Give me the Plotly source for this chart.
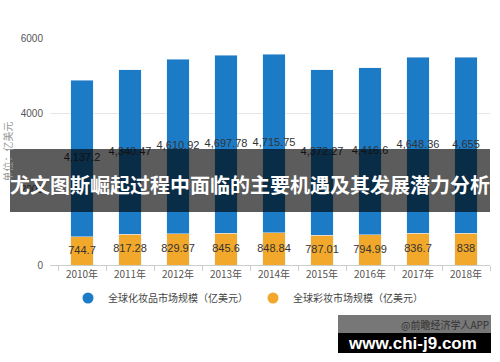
import plotly.graph_objects as go

years = ["2010年", "2011年", "2012年", "2013年", "2014年", "2015年", "2016年", "2017年", "2018年"]
cosmetics = [4137.2, 4340.47, 4610.92, 4697.78, 4715.75, 4372.27, 4416.6, 4648.36, 4655]
makeup = [744.7, 817.28, 829.97, 845.6, 848.84, 787.01, 794.99, 836.7, 838]
yticks = [0, 2000, 4000, 6000]

BLUE = "#1b7bc6"
ORANGE = "#f2a82a"
CJK = "Noto Sans CJK SC"


def fmt(v):
    s = f"{v:,.2f}"
    return s.rstrip("0").rstrip(".")


W, H = 500, 362
L, R, T, B = 50, 10, 38, 97
PW, PH = W - L - R, H - T - B


def px(x):
    return (x - L) / PW


def py(y):
    return (H - B - y) / PH


fig = go.Figure()
fig.add_trace(go.Bar(x=years, y=makeup, marker_color=ORANGE, width=0.46,
                     showlegend=False, hoverinfo="skip"))
fig.add_trace(go.Bar(x=years, y=cosmetics, marker_color=BLUE, width=0.46,
                     showlegend=False, hoverinfo="skip"))

# value labels centred in each segment
fig.add_trace(go.Scatter(x=years, y=[m / 2 for m in makeup], mode="text",
                         text=[fmt(v) for v in makeup],
                         textfont=dict(family="Liberation Sans", size=11, color="#333"),
                         showlegend=False, hoverinfo="skip"))
fig.add_trace(go.Scatter(x=years, y=[m + c / 2 for m, c in zip(makeup, cosmetics)], mode="text",
                         text=[fmt(v) for v in cosmetics],
                         textfont=dict(family="Liberation Sans", size=11, color="#333"),
                         showlegend=False, hoverinfo="skip"))

# legend entries with circle markers
fig.add_trace(go.Scatter(x=[None], y=[None], mode="markers", name="全球化妆品市场规模（亿美元）",
                         marker=dict(color=BLUE, size=11, symbol="circle")))
fig.add_trace(go.Scatter(x=[None], y=[None], mode="markers", name="全球彩妆市场规模（亿美元）",
                         marker=dict(color=ORANGE, size=11, symbol="circle")))

fig.update_layout(
    width=W, height=H,
    margin=dict(l=L, r=R, t=T, b=B, autoexpand=False),
    barmode="stack",
    plot_bgcolor="white", paper_bgcolor="white",
    font=dict(family=CJK, size=10, color="#555"),
    showlegend=True,
    legend=dict(orientation="h", xref="container", yref="container", traceorder="normal",
                x=0.496, xanchor="center", y=1 - 298 / H, yanchor="middle",
                font=dict(family=CJK, size=10, color="#444"),
                itemwidth=30, tracegroupgap=0, bgcolor="rgba(0,0,0,0)"),
    xaxis=dict(range=[-0.667, 8.5], showline=True, linecolor="#cccccc", linewidth=1,
               ticks="outside", tickson="boundaries", ticklen=5, tickcolor="#cccccc",
               tickfont=dict(family=CJK, size=10, color="#555"), showgrid=False,
               fixedrange=True, automargin=False),
    yaxis=dict(range=[0, 6000], tickvals=yticks, ticktext=[str(v) for v in yticks],
               showgrid=True, gridcolor="#e6e6e6", zeroline=False, showline=False,
               tickfont=dict(family="Liberation Sans", size=10, color="#555"),
               ticklabelstandoff=6, automargin=False,
               title=dict(text="单位：亿美元", font=dict(family=CJK, size=10, color="#999"),
                          standoff=6)),
)

shapes = [
    # dark overlay band
    dict(type="rect", xref="paper", yref="paper", x0=px(10), x1=px(490), y0=py(212), y1=py(149),
         fillcolor="rgba(0,0,0,0.64)", line=dict(width=0), layer="above"),
    # watermark boxes
    dict(type="rect", xref="paper", yref="paper", x0=px(338), x1=px(491), y0=py(333), y1=py(315),
         fillcolor="#777777", line=dict(width=0), layer="above"),
    dict(type="rect", xref="paper", yref="paper", x0=px(338), x1=px(491), y0=py(353), y1=py(333),
         fillcolor="#000000", line=dict(width=0), layer="above"),
]
fig.update_layout(shapes=shapes)

fig.add_annotation(xref="paper", yref="paper", x=px(250), y=py(185),
                   text="<b>尤文图斯崛起过程中面临的主要机遇及其发展潜力分析</b>",
                   showarrow=False, xanchor="center", yanchor="middle",
                   font=dict(family=CJK, size=20, color="white"))
fig.add_annotation(xref="paper", yref="paper", x=px(491), y=py(324),
                   text="@前瞻经济学人APP", showarrow=False, xanchor="right", yanchor="middle",
                   font=dict(family=CJK, size=10, color="#333"))
fig.add_annotation(xref="paper", yref="paper", x=px(412), y=py(343),
                   text="<b>www.chi-j9.com</b>", showarrow=False, xanchor="center", yanchor="middle",
                   font=dict(family="Liberation Sans", size=17, color="white"))

fig.write_html("out.html")
